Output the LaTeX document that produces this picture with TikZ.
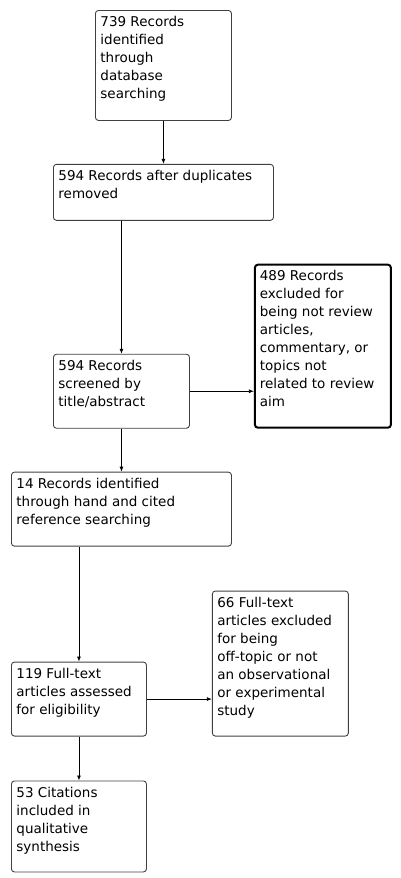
\documentclass[tikz,border=0pt]{standalone}
\usepackage{fontspec}
\setmainfont{DejaVu Sans}
\usepackage{tikz}
\usetikzlibrary{arrows.meta,positioning}

% fixed-size box content: width, height (outer), text
\newcommand{\boxtext}[3]{\parbox[c][\dimexpr#2-12pt\relax][t]{\dimexpr#1-10pt\relax}{\raggedright #3}}

\begin{document}
\begin{tikzpicture}[
  box/.style={draw=black!75, line width=0.9pt, rounded corners=3pt, inner xsep=5pt, inner ysep=6pt, font=\fontsize{13.5}{18}\selectfont},
  thickbox/.style={box, draw=black, line width=2pt},
  arr/.style={-{Latex[length=5pt,width=4pt]}, line width=0.8pt}
]
\useasboundingbox (0,0) rectangle (400pt,-878pt);

\node[box, anchor=north west] (ident) at (95pt,-10pt) {\boxtext{136pt}{110pt}{739 Records\\identified\\through\\database\\searching}};

\node[box, below=43pt of ident] (dupl) {\boxtext{220pt}{56pt}{594 Records after duplicates\\removed}};

\node[box, below=133pt of dupl.south west, anchor=north west] (screen) {\boxtext{136pt}{74pt}{594 Records\\screened by\\title/abstract}};

\node[thickbox, right=64pt of screen.south east, anchor=south west] (excl) {\boxtext{136pt}{163pt}{489 Records\\excluded for\\being not review\\articles,\\commentary, or\\topics not\\related to review\\aim}};

\node[box, below=43pt of screen] (hand) {\boxtext{220pt}{74pt}{14 Records identified\\through hand and cited\\reference searching}};

\node[box, below=115pt of hand.south west, anchor=north west] (full) {\boxtext{135pt}{74pt}{119 Full-text\\articles assessed\\for eligibility}};

\node[box, right=65pt of full.south east, anchor=south west] (fullexcl) {\boxtext{136pt}{145pt}{66 Full-text\\articles excluded\\for being\\off-topic or not\\an observational\\or experimental\\study}};

\node[box, below=44pt of full] (incl) {\boxtext{135pt}{91pt}{53 Citations\\included in\\qualitative\\synthesis}};

\draw[arr] (ident) -- (dupl);
\draw[arr] (dupl.south -| screen.north) -- (screen.north);
\draw[arr] (screen.east) -- (screen.east -| excl.west);
\draw[arr] (screen) -- (hand);
\draw[arr] (hand.south -| full.north) -- (full.north);
\draw[arr] (full.east) -- (full.east -| fullexcl.west);
\draw[arr] (full) -- (incl);

\end{tikzpicture}
\end{document}
